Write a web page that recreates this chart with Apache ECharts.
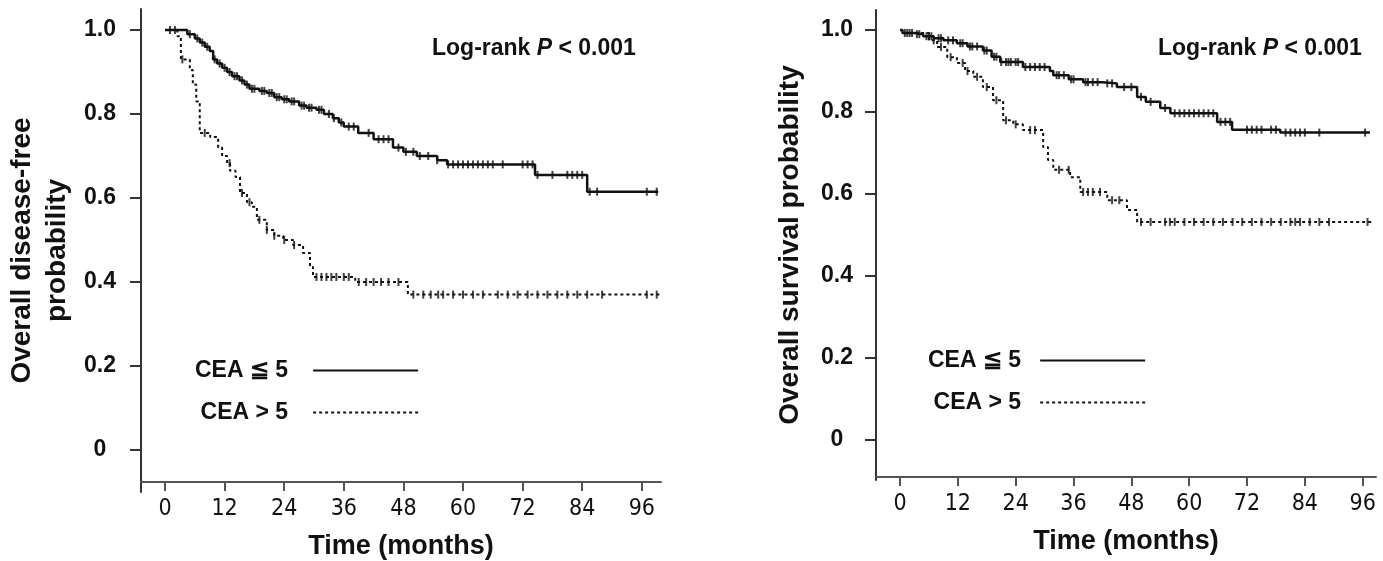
<!DOCTYPE html>
<html>
<head>
<meta charset="utf-8">
<script src="https://cdn.jsdelivr.net/npm/echarts@6/dist/echarts.min.js"></script>
<style>
html,body{margin:0;padding:0;background:#fff;}
#chart{width:1383px;height:561px;}
</style>
</head>
<body>
<div id="chart"></div>
<script>
// ---------- data ----------
var xTicks = [0, 12, 24, 36, 48, 60, 72, 84, 96];
var yTicks = [0, 0.2, 0.4, 0.6, 0.8, 1.0];
var groupLow = 'CEA \u2266 5';
var groupHigh = 'CEA > 5';

// Left panel: overall disease-free probability
var dfsLowTimes = [0, 4.5, 6, 7, 8, 9, 9.7, 10.5, 11.5, 12.5, 13.5, 15, 16, 17, 19, 20.5, 22, 23.5, 25, 27, 28.5, 30.5, 32, 33.8, 35, 36, 38.9, 42, 45.9, 48, 50.7, 54.8, 56.8, 74.5, 85, 99.3];
var dfsLowSurv  = [1.0, 0.99, 0.98, 0.97, 0.96, 0.95, 0.93, 0.92, 0.91, 0.90, 0.89, 0.88, 0.87, 0.86, 0.855, 0.85, 0.84, 0.835, 0.83, 0.82, 0.815, 0.81, 0.80, 0.79, 0.78, 0.77, 0.755, 0.74, 0.72, 0.71, 0.70, 0.69, 0.68, 0.655, 0.615, 0.615];
var dfsLowCensor = [5, 6.5, 7.5, 8.5, 10, 11, 12, 13, 14, 14.5, 15.5, 16.5, 17.5, 18, 19.5, 20, 21, 21.5, 22.5, 23, 24, 24.5, 25.5, 26, 27.5, 28, 29, 29.5, 31, 31.5, 33, 34, 35.5, 37, 38, 41, 43, 44, 45, 47, 48.5, 50, 51.3, 53, 54.8, 57, 58, 59, 60, 61, 62, 63, 64, 65, 66, 68, 72, 73, 74, 75, 78, 81, 82, 83, 84, 85.5, 87, 97, 99];

var dfsHighTimes = [0, 2.5, 3.2, 5, 5.6, 6.3, 7, 9.1, 10.7, 11.5, 12.5, 13.1, 14.2, 15.1, 16.5, 17.5, 18.5, 20.5, 22, 23.8, 25.8, 27.8, 29.2, 29.8, 38.3, 48.9, 99.9];
var dfsHighSurv  = [1.0, 0.985, 0.93, 0.905, 0.87, 0.83, 0.755, 0.745, 0.72, 0.70, 0.683, 0.665, 0.65, 0.612, 0.59, 0.579, 0.548, 0.524, 0.51, 0.50, 0.488, 0.469, 0.436, 0.412, 0.40, 0.37, 0.37];
var dfsHighCensor = [1, 2, 3.5, 8, 13, 15.5, 17, 19, 20.5, 22, 24, 26, 30.5, 31.5, 32.5, 33.5, 34.5, 36, 37, 39, 40.5, 42, 43.5, 45, 47, 50, 52, 53.5, 55, 56, 58, 60, 62, 64, 67, 69, 71, 73, 75, 77, 79, 81, 83, 85, 88, 97, 99];

// Right panel: overall survival probability
var osLowTimes = [0, 0.5, 3, 4.8, 7, 9, 11.8, 14, 17.2, 19, 20.8, 25.5, 31.1, 31.8, 35, 38, 42, 45, 49.2, 51, 54, 56.1, 65.8, 68.9, 78.9, 97.5];
var osLowSurv  = [1.0, 0.993, 0.99, 0.985, 0.98, 0.975, 0.968, 0.96, 0.95, 0.935, 0.922, 0.91, 0.9, 0.89, 0.88, 0.873, 0.87, 0.861, 0.837, 0.825, 0.81, 0.797, 0.776, 0.757, 0.75, 0.75];
var osLowCensor = [1, 1.5, 2, 2.5, 3.5, 4, 5.5, 6, 6.5, 8, 8.5, 10, 11, 12.5, 13, 14.5, 15, 16, 17.5, 18, 19.5, 20, 21, 22, 22.5, 23, 24, 24.5, 26, 27, 28, 29, 30, 32.5, 33, 34, 35.5, 36, 38.5, 39, 40, 41, 43, 44, 46.5, 48, 50, 52, 55, 57, 58, 59, 60, 61, 62, 63, 64, 65, 66.5, 67.5, 68.5, 72, 73, 74, 75, 77, 78, 80, 81, 82, 83, 84, 87, 96.5];

var osHighTimes = [0, 0.5, 6, 7.7, 9.8, 11.8, 13.5, 15.2, 17.2, 19.3, 21.4, 23.5, 25.5, 29.7, 30.7, 31.8, 35.3, 37.4, 43, 47.1, 49.2, 98.2];
var osHighSurv  = [1.0, 0.993, 0.975, 0.959, 0.934, 0.92, 0.9, 0.886, 0.861, 0.829, 0.78, 0.77, 0.756, 0.715, 0.683, 0.659, 0.641, 0.605, 0.585, 0.561, 0.532, 0.532];
var osHighCensor = [7, 8.5, 10.5, 13, 14, 16, 18, 20, 22, 24, 27, 28, 33, 35, 38, 39, 40, 41.5, 44, 45.5, 50, 52, 55, 56, 57, 59, 61, 63, 65, 67, 69, 71, 73, 75, 77, 79, 81, 82, 83, 85, 87, 89, 97];

// ---------- helpers ----------
function pairs(t, s) { return t.map(function (v, i) { return [v, s[i]]; }); }
function stepAt(t, s, x) {
  var v = s[0];
  for (var i = 0; i < t.length; i++) { if (t[i] <= x) v = s[i]; else break; }
  return v;
}
function censorPts(c, t, s) { return c.map(function (x) { return [x, stepAt(t, s, x)]; }); }

var boldFont = "'Liberation Sans', Arial, Helvetica, sans-serif";
var narrowFont = "'Liberation Sans Narrow', 'Arial Narrow', 'DejaVu Sans Condensed', sans-serif";
var ink = '#111';
var axisCol = '#333';

function yAxisCfg(gi, min, max, name, nameGap, labelMargin) {
  return {
    type: 'value', gridIndex: gi, min: min, max: max,
    name: name, nameLocation: 'middle', nameGap: nameGap,
    nameTextStyle: { fontFamily: boldFont, fontWeight: 'bold', fontSize: 28, color: ink, lineHeight: 35 },
    axisLine: { show: true, onZero: false, lineStyle: { color: axisCol, width: 2 } },
    axisTick: { show: true, length: 11, lineStyle: { color: axisCol, width: 2 }, customValues: yTicks },
    axisLabel: {
      customValues: yTicks, margin: labelMargin, align: 'center', padding: [7, 0, 0, 0],
      fontFamily: boldFont, fontWeight: 'bold', fontSize: 23, color: ink,
      formatter: function (v) { return v === 0 ? '0' : v.toFixed(1); }
    },
    splitLine: { show: false }
  };
}
function xAxisCfg(gi, min, max, offset, nameGap) {
  return {
    type: 'value', gridIndex: gi, min: min, max: max, offset: offset,
    name: 'Time (months)', nameLocation: 'middle', nameGap: nameGap,
    nameTextStyle: { fontFamily: boldFont, fontWeight: 'bold', fontSize: 27, color: ink },
    axisLine: { show: true, onZero: false, lineStyle: { color: '#555', width: 2 } },
    axisTick: { show: true, length: 9, lineStyle: { color: '#555', width: 2 }, customValues: xTicks },
    axisLabel: { customValues: xTicks, margin: 16, fontFamily: narrowFont, fontSize: 23, color: ink },
    splitLine: { show: false }
  };
}
function kmLine(name, gi, t, s, dashed) {
  return {
    type: 'line', name: name, xAxisIndex: gi, yAxisIndex: gi, step: 'end',
    data: pairs(t, s), symbol: 'none', showSymbol: false,
    lineStyle: dashed ? { color: ink, width: 2, type: [3, 3] } : { color: ink, width: 2.5 },
    itemStyle: { color: ink }, z: 3
  };
}
function kmMarks(gi, c, t, s) {
  return {
    type: 'scatter', name: 'censored-' + gi + '-' + c.length, xAxisIndex: gi, yAxisIndex: gi,
    data: censorPts(c, t, s), symbol: 'rect', symbolSize: [2, 8],
    itemStyle: { color: ink }, z: 2, silent: true
  };
}
function pTitle(left) {
  return {
    text: '{a|Log-rank }{b|P}{a| < 0.001}', left: left, top: 32,
    textStyle: {
      rich: {
        a: { fontFamily: boldFont, fontWeight: 'bold', fontSize: 23, color: ink },
        b: { fontFamily: boldFont, fontWeight: 'bold', fontStyle: 'italic', fontSize: 23, color: ink }
      }
    }
  };
}
function legendCfg(left, top, textGap) {
  return {
    orient: 'vertical', align: 'right', left: left, top: top,
    itemWidth: 105, itemHeight: 12, itemGap: 19,
    data: [
      { name: groupLow },
      { name: groupHigh }
    ],
    itemStyle: { opacity: 0, borderWidth: 0 },
    textStyle: { fontFamily: boldFont, fontWeight: 'bold', fontSize: 23, color: ink, padding: [0, textGap, 0, 0] },
    selectedMode: false
  };
}

var chart = echarts.init(document.getElementById('chart'), null, { renderer: 'canvas' });
var lowL = kmLine(groupLow, 0, dfsLowTimes, dfsLowSurv, false);
var highL = kmLine(groupHigh, 0, dfsHighTimes, dfsHighSurv, true);
var lowR = kmLine(groupLow, 1, osLowTimes, osLowSurv, false);
var highR = kmLine(groupHigh, 1, osHighTimes, osHighSurv, true);

chart.setOption({
  animation: false,
  backgroundColor: '#fff',
  title: [pTitle(427), pTitle(1153)],
  grid: [
    { left: 141, right: 722, top: 9, bottom: 69, containLabel: false, outerBoundsMode: 'none' },
    { left: 876, right: 7, top: 10, bottom: 81, containLabel: false, outerBoundsMode: 'none' }
  ],
  legend: [legendCfg(190, 354, 20), legendCfg(923, 344, 14)],
  xAxis: [xAxisCfg(0, -4.83, 99.86, -10, 51), xAxisCfg(1, -4.98, 98.76, -3, 51)],
  yAxis: [
    yAxisCfg(0, -0.1, 1.05, 'Overall disease-free\nprobability', 66, 41),
    yAxisCfg(1, -0.0976, 1.049, 'Overall survival probability', 68, 39)
  ],
  series: [
    lowL, highL, lowR, highR,
    kmMarks(0, dfsLowCensor, dfsLowTimes, dfsLowSurv),
    kmMarks(0, dfsHighCensor, dfsHighTimes, dfsHighSurv),
    kmMarks(1, osLowCensor, osLowTimes, osLowSurv),
    kmMarks(1, osHighCensor, osHighTimes, osHighSurv)
  ]
});
</script>
</body>
</html>
